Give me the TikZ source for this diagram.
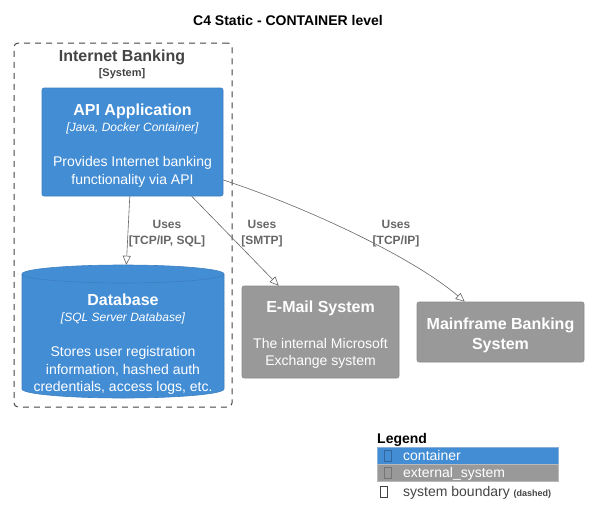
\documentclass[tikz,border=0pt]{standalone}
\usepackage{fontspec}
\setmainfont{Liberation Sans}
\usetikzlibrary{arrows.meta,calc}
\definecolor{contfill}{HTML}{438DD5}
\definecolor{contline}{HTML}{3C7FC0}
\definecolor{extfill}{HTML}{999999}
\definecolor{extline}{HTML}{8A8A8A}
\definecolor{bndtext}{HTML}{444444}
\definecolor{reltext}{HTML}{666666}
\newcommand{\fs}[1]{\fontsize{#1}{#1}\selectfont}
\tikzset{
  contbox/.style={rectangle, rounded corners=2pt, fill=contfill, draw=contline, line width=0.6pt, inner sep=0pt},
  extbox/.style={rectangle, rounded corners=2pt, fill=extfill, draw=extline, line width=0.6pt, inner sep=0pt},
  bnd/.style={draw=bndtext, dash pattern=on 6pt off 5pt, rounded corners=4pt, line width=1pt},
  ttl/.style={text=white, font=\bfseries\fs{16}, anchor=base, inner sep=0pt},
  tech/.style={text=white, font=\itshape\fs{12}, anchor=base, inner sep=0pt},
  desc/.style={text=white, font=\fs{14}, anchor=base, inner sep=0pt},
  rel/.style={draw=reltext, line width=0.6pt, -{Triangle[open, length=9pt, width=8pt]}},
  rellab/.style={text=reltext, font=\bfseries\fs{12}, anchor=base, inner sep=0pt},
  leg/.style={font=\fs{14}, anchor=base west, inner sep=0pt},
  glyph/.style={draw, line width=0.5pt, minimum width=7pt, minimum height=11pt, inner sep=0pt},
}
\begin{document}
\begin{tikzpicture}[x=1pt, y=-1pt]
\useasboundingbox (0,0) rectangle (589,525);
% title
\node[font=\bfseries\fs{14}, anchor=base, inner sep=0pt] (title) at (288,25) {C4 Static - CONTAINER level};
% boundary
\node[bnd, rectangle, minimum width=218pt, minimum height=364pt, inner sep=0pt] (bound) at (123,225) {};
\node[text=bndtext, font=\bfseries\fs{16}, anchor=base, inner sep=0pt] (bndname) at (122,61) {Internet Banking};
\node[text=bndtext, font=\bfseries\fs{11}, anchor=base, inner sep=0pt] (bndtype) at (122,76) {[System]};
% API application
\node[contbox, minimum width=181pt, minimum height=108pt] (api) at (132.5,142) {};
\node[ttl] (apit) at (132.5,115) {API Application};
\node[tech] (apitech) at (132.5,131) {[Java, Docker Container]};
\node[desc] (apid1) at (132.5,166) {Provides Internet banking};
\node[desc] (apid2) at (132.5,184) {functionality via API};
% Database cylinder
\node[rectangle, minimum width=202pt, minimum height=133pt, inner sep=0pt] (db) at (123,331.5) {};
\filldraw[fill=contfill, draw=contline, line width=0.6pt]
  (22,274) -- (22,389) arc[start angle=180, end angle=0, x radius=101, y radius=9]
  -- (224,274) arc[start angle=0, end angle=-180, x radius=101, y radius=9] -- cycle;
\draw[contline, line width=0.6pt] (22,274) arc[start angle=180, end angle=0, x radius=101, y radius=9];
\node[ttl] (dbt) at (123,305) {Database};
\node[tech] (dbtech) at (123,321) {[SQL Server Database]};
\node[desc] (dbd1) at (123,356) {Stores user registration};
\node[desc] (dbd2) at (123,374) {information, hashed auth};
\node[desc] (dbd3) at (123,391) {credentials, access logs, etc.};
% E-Mail system
\node[extbox, minimum width=157pt, minimum height=92pt] (mail) at (320.5,332) {};
\node[ttl] (mailt) at (320.5,312) {E-Mail System};
\node[desc] (maild1) at (320.5,348) {The internal Microsoft};
\node[desc] (maild2) at (320.5,365) {Exchange system};
% Mainframe
\node[extbox, minimum width=167pt, minimum height=60pt] (mf) at (500.5,332) {};
\node[ttl] (mft1) at (500.5,329) {Mainframe Banking};
\node[ttl] (mft2) at (500.5,349) {System};
% relations
\draw[rel] (api) -- (db);
\draw[rel] ($(api.south west)+(150,0)$) -- ($(mail.north west)+(37,0)$);
\draw[rel] ($(api.east)+(0,38)$) .. controls (300,205) and (410,255) .. ($(mf.north west)+(48,0)$);
\node[rellab] (l1a) at (167,228) {Uses};
\node[rellab] (l1b) at (167,244) {[TCP/IP, SQL]};
\node[rellab] (l2a) at (262,228) {Uses};
\node[rellab] (l2b) at (262,244) {[SMTP]};
\node[rellab] (l3a) at (396,228) {Uses};
\node[rellab] (l3b) at (396,244) {[TCP/IP]};
% legend
\node[font=\bfseries\fs{14}, anchor=base west, inner sep=0pt] (legt) at (377,443) {Legend};
\node[rectangle, fill=contfill, draw=contline!60!white, line width=0.5pt, minimum width=181pt, minimum height=17pt, inner sep=0pt] (legc) at (467.5,455.5) {};
\node[rectangle, fill=extfill, draw=extline!60!white, line width=0.5pt, minimum width=181pt, minimum height=17pt, inner sep=0pt] (lege) at (467.5,472.5) {};
\node[glyph, draw=contline!80!black] (g1) at (388,456) {};
\node[glyph, draw=extline!85!black] (g2) at (388,473) {};
\node[glyph, draw=bndtext] (g3) at (384,492) {};
\node[leg, text=white] (legct) at (403,460) {container};
\node[leg, text=white] (leget) at (403,477) {external\_system};
\node[leg, text=bndtext] (legbt) at (403,496) {system boundary {\fs{9}\bfseries (dashed)}};
\end{tikzpicture}
\end{document}
